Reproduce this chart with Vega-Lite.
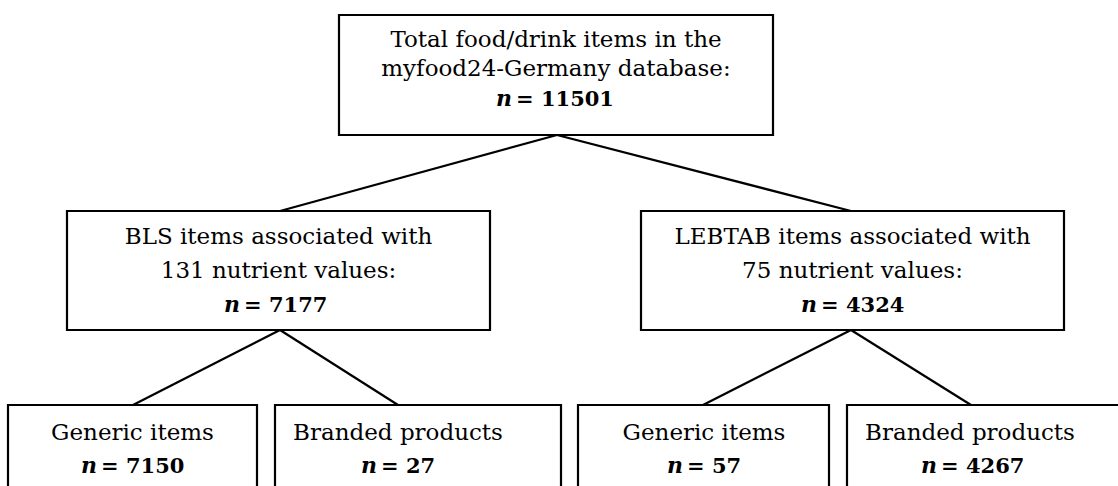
{
  "$schema": "https://vega.github.io/schema/vega-lite/v6.json",
  "width": 1118,
  "height": 486,
  "autosize": "none",
  "padding": 0,
  "background": "white",
  "config": {"view": {"stroke": null}},
  "datasets": {
    "boxes": [
      {"box": "Total", "x": 339, "x2": 773, "y": 15, "y2": 135},
      {"box": "BLS", "x": 67, "x2": 490, "y": 211, "y2": 330},
      {"box": "LEBTAB", "x": 641, "x2": 1064, "y": 211, "y2": 330},
      {"box": "BLS generic", "x": 8, "x2": 257, "y": 405, "y2": 500},
      {"box": "BLS branded", "x": 275, "x2": 561, "y": 405, "y2": 500},
      {"box": "LEBTAB generic", "x": 578, "x2": 829, "y": 405, "y2": 500},
      {"box": "LEBTAB branded", "x": 847, "x2": 1130, "y": 405, "y2": 500}
    ],
    "links": [
      {"from": "Total", "to": "BLS", "x": 557, "y": 135, "x2": 280, "y2": 211},
      {"from": "Total", "to": "LEBTAB", "x": 557, "y": 135, "x2": 851, "y2": 211},
      {"from": "BLS", "to": "BLS generic", "x": 280, "y": 330, "x2": 133, "y2": 405},
      {"from": "BLS", "to": "BLS branded", "x": 280, "y": 330, "x2": 398, "y2": 405},
      {"from": "LEBTAB", "to": "LEBTAB generic", "x": 851, "y": 330, "x2": 703, "y2": 405},
      {"from": "LEBTAB", "to": "LEBTAB branded", "x": 851, "y": 330, "x2": 971, "y2": 405}
    ],
    "labels": [
      {"kind": "label", "x": 556, "y": 47, "text": "Total food/drink items in the"},
      {"kind": "label", "x": 556, "y": 76, "text": "myfood24-Germany database:"},
      {"kind": "n", "x": 512, "y": 106, "text": "n"},
      {"kind": "count", "x": 516, "y": 106, "text": "= 11501"},
      {"kind": "label", "x": 278.5, "y": 244, "text": "BLS items associated with"},
      {"kind": "label", "x": 278.5, "y": 278, "text": "131 nutrient values:"},
      {"kind": "n", "x": 240, "y": 312, "text": "n"},
      {"kind": "count", "x": 244, "y": 312, "text": "= 7177"},
      {"kind": "label", "x": 852.5, "y": 244, "text": "LEBTAB items associated with"},
      {"kind": "label", "x": 852.5, "y": 278, "text": "75 nutrient values:"},
      {"kind": "n", "x": 817, "y": 312, "text": "n"},
      {"kind": "count", "x": 821, "y": 312, "text": "= 4324"},
      {"kind": "label", "x": 132.5, "y": 440, "text": "Generic items"},
      {"kind": "n", "x": 97, "y": 473, "text": "n"},
      {"kind": "count", "x": 101, "y": 473, "text": "= 7150"},
      {"kind": "label", "x": 398, "y": 440, "text": "Branded products"},
      {"kind": "n", "x": 377, "y": 473, "text": "n"},
      {"kind": "count", "x": 381, "y": 473, "text": "= 27"},
      {"kind": "label", "x": 704, "y": 440, "text": "Generic items"},
      {"kind": "n", "x": 683, "y": 473, "text": "n"},
      {"kind": "count", "x": 687, "y": 473, "text": "= 57"},
      {"kind": "label", "x": 970, "y": 440, "text": "Branded products"},
      {"kind": "n", "x": 937, "y": 473, "text": "n"},
      {"kind": "count", "x": 941, "y": 473, "text": "= 4267"}
    ]
  },
  "layer": [
    {
      "data": {"name": "links"},
      "mark": {"type": "rule", "color": "black", "strokeWidth": 2.2},
      "encoding": {
        "x": {"field": "x", "type": "quantitative", "scale": {"domain": [0, 1118], "nice": false, "zero": false}, "axis": null},
        "y": {"field": "y", "type": "quantitative", "scale": {"domain": [0, 486], "nice": false, "zero": false, "reverse": true}, "axis": null},
        "x2": {"field": "x2"},
        "y2": {"field": "y2"}
      }
    },
    {
      "data": {"name": "boxes"},
      "mark": {"type": "rect", "fill": "white", "stroke": "black", "strokeWidth": 2.2},
      "encoding": {
        "x": {"field": "x", "type": "quantitative", "scale": {"domain": [0, 1118], "nice": false, "zero": false}, "axis": null},
        "y": {"field": "y", "type": "quantitative", "scale": {"domain": [0, 486], "nice": false, "zero": false, "reverse": true}, "axis": null},
        "x2": {"field": "x2"},
        "y2": {"field": "y2"}
      }
    },
    {
      "data": {"name": "labels"},
      "transform": [{"filter": "datum.kind === 'label'"}],
      "mark": {"type": "text", "font": "DejaVu Serif", "fontSize": 23, "align": "center", "baseline": "alphabetic", "color": "black"},
      "encoding": {
        "x": {"field": "x", "type": "quantitative", "scale": {"domain": [0, 1118], "nice": false, "zero": false}, "axis": null},
        "y": {"field": "y", "type": "quantitative", "scale": {"domain": [0, 486], "nice": false, "zero": false, "reverse": true}, "axis": null},
        "text": {"field": "text"}
      }
    },
    {
      "data": {"name": "labels"},
      "transform": [{"filter": "datum.kind === 'n'"}],
      "mark": {"type": "text", "font": "DejaVu Serif", "fontSize": 22, "fontWeight": "bold", "fontStyle": "italic", "align": "right", "baseline": "alphabetic", "color": "black"},
      "encoding": {
        "x": {"field": "x", "type": "quantitative", "scale": {"domain": [0, 1118], "nice": false, "zero": false}, "axis": null},
        "y": {"field": "y", "type": "quantitative", "scale": {"domain": [0, 486], "nice": false, "zero": false, "reverse": true}, "axis": null},
        "text": {"field": "text"}
      }
    },
    {
      "data": {"name": "labels"},
      "transform": [{"filter": "datum.kind === 'count'"}],
      "mark": {"type": "text", "font": "DejaVu Serif", "fontSize": 21, "fontWeight": "bold", "align": "left", "baseline": "alphabetic", "color": "black"},
      "encoding": {
        "x": {"field": "x", "type": "quantitative", "scale": {"domain": [0, 1118], "nice": false, "zero": false}, "axis": null},
        "y": {"field": "y", "type": "quantitative", "scale": {"domain": [0, 486], "nice": false, "zero": false, "reverse": true}, "axis": null},
        "text": {"field": "text"}
      }
    }
  ]
}
